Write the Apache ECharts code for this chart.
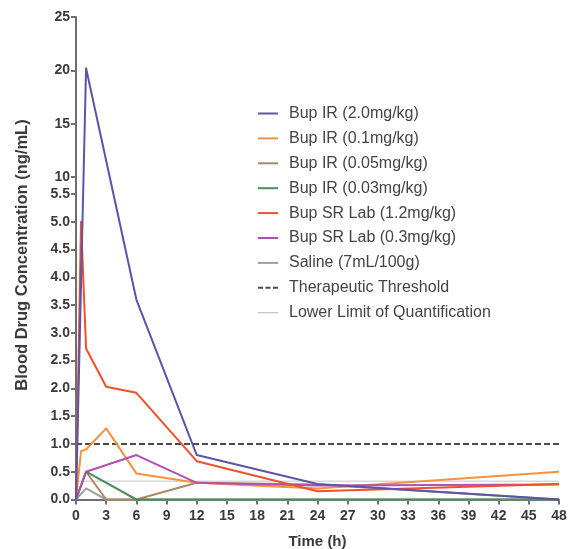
<!DOCTYPE html>
<html><head><meta charset="utf-8">
<script src="https://cdn.jsdelivr.net/npm/echarts@6/dist/echarts.min.js"></script>
<style>html,body{margin:0;padding:0;background:#fff}#c{width:574px;height:549px}</style>
</head><body><div id="c"></div>
<script>
// ---- data ----
const seriesNames = ['Bup IR (2.0mg/kg)','Bup IR (0.1mg/kg)','Bup IR (0.05mg/kg)','Bup IR (0.03mg/kg)','Bup SR Lab (1.2mg/kg)','Bup SR Lab (0.3mg/kg)','Saline (7mL/100g)'];
const thresholdName = 'Therapeutic Threshold';
const lloqName = 'Lower Limit of Quantification';
const tIR20 = [0, 1, 6, 12, 24, 48];
const vIR20 = [0, 20.2, 3.6, 0.8, 0.28, 0];
const tIR01 = [0, 0.5, 1, 3, 6, 12, 24, 48];
const vIR01 = [0, 0.87, 0.9, 1.28, 0.47, 0.3, 0.2, 0.5];
const tIR005 = [0, 1, 3, 6, 12, 24, 48];
const vIR005 = [0, 0.5, 0, 0, 0.3, 0.27, 0];
const tIR003 = [0, 1, 6, 12, 24, 48];
const vIR003 = [0, 0.5, 0, 0, 0, 0];
const tSR12 = [0, 0.5, 1, 3, 6, 12, 24, 48];
const vSR12 = [0, 5.0, 2.72, 2.03, 1.92, 0.69, 0.15, 0.28];
const tSR03 = [0, 1, 6, 12, 24, 48];
const vSR03 = [0, 0.5, 0.8, 0.3, 0.25, 0.27];
const tSal = [0, 1, 3, 6, 12, 24, 48];
const vSal = [0, 0.2, 0, 0, 0, 0, 0];
const threshold = 1.0;
const lloq = 0.33;
const xMin = 0, xMax = 48, xStep = 3;
const lowMin = 0, lowMax = 5.5, lowStep = 0.5;
const upMin = 10, upMax = 25, upStep = 5;

// ---- style ----
const colors = ['#5a55a8','#f5913f','#a88a66','#4e8a5e','#f0502a','#b14fb3','#a0a0a0'];
const axisColor = '#6e6e6e';
const textColor = '#3a3a3a';
const FONT = '"Liberation Sans", Arial, sans-serif';

const chart = echarts.init(document.getElementById('c'));
const L = 76, R = 15;
const UP_TOP = 17, UP_BOT = 177, LOW_TOP = 194, LOW_BOT = 499.5;

const dataSets = [
  [tIR20, vIR20], [tIR01, vIR01], [tIR005, vIR005], [tIR003, vIR003],
  [tSR12, vSR12], [tSR03, vSR03], [tSal, vSal]
];

function toPx(t, v) {
  return chart.convertToPixel({gridIndex: v > lowMax ? 0 : 2}, [t, v]);
}

function makeCustom(idx, z) {
  const ts = dataSets[idx][0], vs = dataSets[idx][1];
  return {
    type: 'custom', name: seriesNames[idx], coordinateSystem: 'cartesian2d',
    xAxisIndex: 2, yAxisIndex: 2, z: z,
    itemStyle: {color: colors[idx]},
    data: ts.map((t, i) => [t, vs[i]]),
    renderItem: function (params, api) {
      if (params.dataIndex !== 0) return null;
      const pts = ts.map((t, i) => toPx(t, vs[i]));
      return {type: 'polyline', shape: {points: pts},
        style: {stroke: colors[idx], lineWidth: 2, fill: null, lineJoin: 'round'}};
    }
  };
}

const series = [];
series.push({type: 'line', name: lloqName, xAxisIndex: 2, yAxisIndex: 2, symbol: 'none', z: 1,
  color: '#c4c4c4', lineStyle: {color: '#c4c4c4', width: 1}, data: [[xMin, lloq], [xMax, lloq]]});
series.push({type: 'line', name: thresholdName, xAxisIndex: 2, yAxisIndex: 2, symbol: 'none', z: 1,
  color: '#4a4a4a', lineStyle: {color: '#4a4a4a', width: 2, type: [6, 3]}, data: [[xMin, threshold], [xMax, threshold]]});
const order = [6, 2, 1, 3, 5, 4, 0];
order.forEach((idx, k) => series.push(makeCustom(idx, 2 + k)));

const solidIcon = 'path://M0,0h20v2h-20z';
const thinIcon = 'path://M0,0h20v1.2h-20z';
const dashIcon = 'path://M0,0h5v2h-5zM7.5,0h5v2h-5zM15,0h5v2h-5z';
const legendData = seriesNames.map(n => ({name: n, icon: solidIcon}))
  .concat([{name: thresholdName, icon: dashIcon}, {name: lloqName, icon: thinIcon}]);

const hiddenX = (gi) => ({type: 'value', gridIndex: gi, min: xMin, max: xMax, show: false});
const labelStyle = {color: textColor, fontSize: 14, fontWeight: 'bold', fontFamily: FONT};
const gridBase = {left: L, right: R, outerBoundsMode: 'none', containLabel: false};

chart.setOption({
  animation: false,
  backgroundColor: '#fff',
  grid: [
    Object.assign({top: UP_TOP, height: UP_BOT - UP_TOP}, gridBase),
    Object.assign({top: UP_BOT, height: LOW_TOP - UP_BOT}, gridBase),
    Object.assign({top: LOW_TOP, height: LOW_BOT - LOW_TOP}, gridBase)
  ],
  xAxis: [
    hiddenX(0), hiddenX(1),
    {type: 'value', gridIndex: 2, min: xMin, max: xMax, interval: xStep,
      name: 'Time (h)', nameLocation: 'middle', nameGap: 35,
      nameTextStyle: {color: textColor, fontSize: 15, fontWeight: 'bold', fontFamily: FONT},
      axisLine: {lineStyle: {color: axisColor, width: 2}},
      axisTick: {length: 5, lineStyle: {color: axisColor, width: 2}},
      axisLabel: Object.assign({margin: 10}, labelStyle),
      splitLine: {show: false}}
  ],
  yAxis: [
    {type: 'value', gridIndex: 0, min: upMin, max: upMax, interval: upStep,
      axisLine: {show: true, lineStyle: {color: axisColor, width: 2}},
      axisTick: {show: true, length: 5, lineStyle: {color: axisColor, width: 2}},
      axisLabel: Object.assign({margin: 6}, labelStyle),
      splitLine: {show: false}},
    {type: 'value', gridIndex: 1, min: lowMax, max: upMin,
      axisLine: {show: true, lineStyle: {color: axisColor, width: 2}},
      axisTick: {show: false}, axisLabel: {show: false}, splitLine: {show: false}},
    {type: 'value', gridIndex: 2, min: lowMin, max: lowMax, interval: lowStep,
      axisLine: {show: true, lineStyle: {color: axisColor, width: 2}},
      axisTick: {show: true, length: 5, lineStyle: {color: axisColor, width: 2}},
      axisLabel: Object.assign({margin: 6, formatter: v => v.toFixed(1)}, labelStyle),
      splitLine: {show: false}}
  ],
  legend: {
    orient: 'vertical', left: 253, top: 100.5,
    itemWidth: 20, itemHeight: 14, itemGap: 8.9,
    itemStyle: {borderWidth: 0},
    textStyle: {color: '#444', fontSize: 16, fontFamily: FONT, lineHeight: 14, padding: [0, 0, 0, 6]},
    data: legendData
  },
  graphic: [{
    type: 'text', x: 22, y: 255, rotation: Math.PI / 2,
    style: {text: 'Blood Drug Concentration (ng/mL)', fill: textColor,
      font: 'bold 16.5px ' + FONT, align: 'center', verticalAlign: 'middle'}
  }],
  series: series
});
</script></body></html>
